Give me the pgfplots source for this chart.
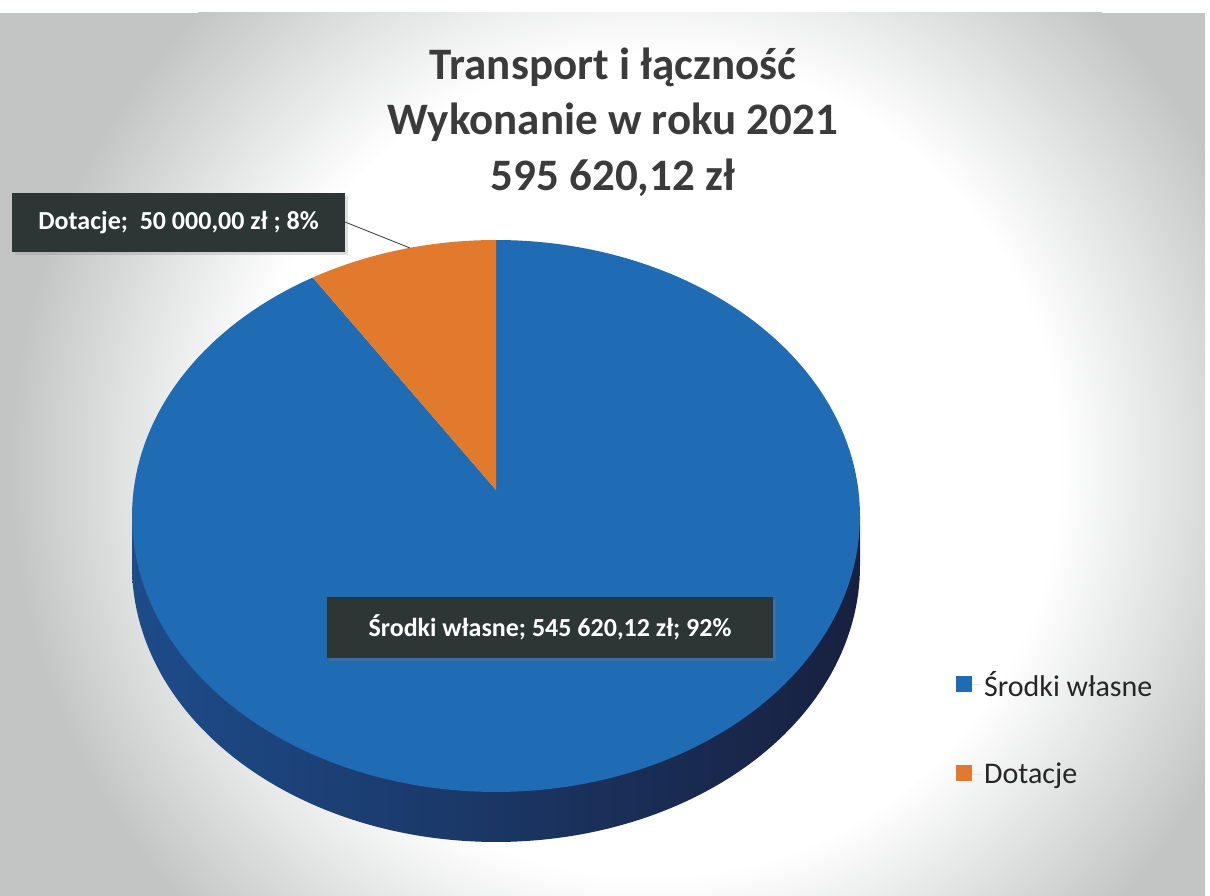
\documentclass[border=0pt]{standalone}
\usepackage{pgfplots}
\pgfplotsset{compat=1.18}
\usepackage{fontspec}
\setmainfont{Carlito}
\usepackage{xfp}
\usetikzlibrary{shadows}
\definecolor{bggray}{HTML}{C3C5C5}
\definecolor{pieblue}{HTML}{1F6BB4}
\definecolor{pieorange}{HTML}{E27A2E}
\definecolor{sidedark}{HTML}{18203F}
\definecolor{sideblue}{HTML}{1D4C8A}
\definecolor{boxgray}{HTML}{2E3535}
\definecolor{titlegray}{HTML}{3B3B3B}
\pgfdeclareradialshading{glow}{\pgfpoint{0bp}{0bp}}{color(0bp)=(white); color(16bp)=(white); color(25bp)=(bggray); color(50bp)=(bggray)}
% data (zł)
\def\valA{545620.12} % Środki własne
\def\valB{50000.00}  % Dotacje
\edef\angB{\fpeval{90+360*\valB/(\valA+\valB)}}
\begin{document}
\begin{tikzpicture}[x=1pt,y=1pt]
\useasboundingbox (0,0) rectangle (1210,896);
\fill[white] (0,0) rectangle (1210,896);
\fill[bggray] (0,0) rectangle (1205,883);
\begin{scope}
\clip (0,0) rectangle (1205,883);
\shade[shading=glow] (650pt,430pt) circle (640pt);
\end{scope}
\begin{axis}[x=1pt,y=1pt,xmin=0,xmax=1210,ymin=0,ymax=896,
  anchor=origin,at={(0,0)},disabledatascaling,hide axis,clip=false,
  legend image code/.code={\fill[#1] (0pt,-7pt) rectangle (16pt,9pt); \path (0pt,0pt) -- (26pt,0pt);},
  legend cell align=left,
  legend style={at={(0.790,0.253)},anchor=north west,draw=none,fill=none,
    font=\fontsize{30}{36}\selectfont,text=black!85,row sep=61pt,inner sep=0pt},
  ]
% side of the 3D pie
\addplot[forget plot,draw=none,left color=sideblue,right color=sidedark,domain=180:360,samples=120]
  ({496+364*cos(x)},{330+276*sin(x)}) -- (860,380) -- (132,380) -- cycle;
% Środki własne
\addplot[fill=pieblue,draw=none,domain=\angB:450,samples=200]
  ({496+364*cos(x)},{380+276*sin(x)}) -- (496,406) -- cycle;
\addlegendentry{Środki własne}
% Dotacje
\addplot[fill=pieorange,draw=none,domain=90:\angB,samples=40]
  ({496+364*cos(x)},{380+276*sin(x)}) -- (496,406) -- cycle;
\addlegendentry{Dotacje}
% title
\node[anchor=base,font=\bfseries\fontsize{45}{54}\selectfont,text=titlegray] at (613,816) {Transport i łączność};
\node[anchor=base,font=\bfseries\fontsize{45}{54}\selectfont,text=titlegray] at (613,761) {Wykonanie w roku 2021};
\node[anchor=base,font=\bfseries\fontsize{45}{54}\selectfont,text=titlegray] at (613,705) {595 620,12 zł};
% data labels
\draw[black!80,line width=0.8pt] (345,674) -- (410,648);
\node[fill=boxgray,text=white,font=\bfseries\fontsize{26}{30}\selectfont,minimum width=333pt,minimum height=59pt,inner sep=0pt,
  drop shadow={opacity=0.25,shadow xshift=3pt,shadow yshift=-3pt}] at (178.5,673.5) {Dotacje;\ \ 50 000,00 zł ; 8\%};
\node[fill=boxgray,text=white,font=\bfseries\fontsize{26}{30}\selectfont,minimum width=446pt,minimum height=61pt,inner sep=0pt,
  drop shadow={opacity=0.25,shadow xshift=3pt,shadow yshift=-3pt}] at (550,268.5) {Środki własne; 545 620,12 zł; 92\%};
\end{axis}
\end{tikzpicture}
\end{document}
